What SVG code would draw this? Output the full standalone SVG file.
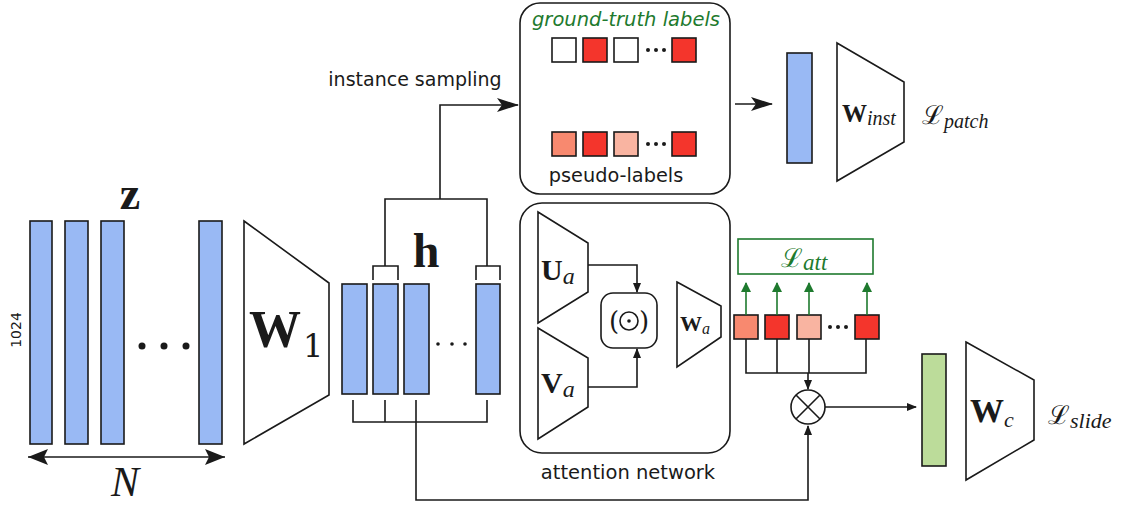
<svg xmlns="http://www.w3.org/2000/svg" width="1127" height="506" viewBox="0 0 1127 506">
<style>
.bar{fill:#99b9f4;stroke:#1a1a1a;stroke-width:1.6}
.gbar{fill:#bcdc9a;stroke:#1a1a1a;stroke-width:1.6}
.trap{fill:#fff;stroke:#1a1a1a;stroke-width:1.6}
.ln{fill:none;stroke:#1a1a1a;stroke-width:1.6}
.gln{fill:none;stroke:#1e7a2e;stroke-width:1.6}
.box{fill:#fff;stroke:#1a1a1a;stroke-width:1.6}
.sq{stroke:#1a1a1a;stroke-width:1.6}
.red{fill:#f4352c}.sal{fill:#f8896f}.lsal{fill:#f9b4a1}.wht{fill:#fff}
.sans{font-family:"DejaVu Sans",sans-serif;fill:#1a1a1a}
.math{font-family:"DejaVu Serif","Liberation Serif",serif;fill:#1a1a1a}
.bold{font-family:"Liberation Serif","DejaVu Serif",serif;font-weight:bold;fill:#1a1a1a}
.it{font-family:"Liberation Serif","DejaVu Serif",serif;font-style:italic;font-weight:normal}
.cal{font-family:"DejaVu Serif","Liberation Serif",serif;font-style:normal;font-weight:normal}
</style>
<defs>
<marker id="ah" markerWidth="10" markerHeight="8" refX="9" refY="4" orient="auto" markerUnits="userSpaceOnUse"><path d="M0,0 L10,4 L0,8 Z" fill="#1a1a1a"/></marker>
<marker id="ahb" markerWidth="22" markerHeight="14" refX="21" refY="7" orient="auto" markerUnits="userSpaceOnUse"><path d="M0,0 L22,7 L0,14 L5,7 Z" fill="#1a1a1a"/></marker>
<marker id="ahg" markerWidth="10" markerHeight="10" refX="9" refY="5" orient="auto" markerUnits="userSpaceOnUse"><path d="M0,0 L10,5 L0,10 Z" fill="#1e7a2e"/></marker>
</defs>

<g id="z-bags">
<rect class="bar" x="30" y="221" width="22" height="223"/>
<rect class="bar" x="65" y="221" width="23" height="223"/>
<rect class="bar" x="101" y="221" width="23" height="223"/>
<rect class="bar" x="199" y="221" width="23" height="223"/>
<circle cx="142" cy="346" r="3.5" fill="#1a1a1a"/><circle cx="164" cy="346" r="3.5" fill="#1a1a1a"/><circle cx="186" cy="346" r="3.5" fill="#1a1a1a"/>
<text class="bold" x="130" y="209" font-size="46" text-anchor="middle">z</text>
<text class="sans" x="0" y="0" font-size="14" text-anchor="middle" transform="translate(21,330) rotate(-90)">1024</text>
<text class="it" x="125" y="496" font-size="42" text-anchor="middle" fill="#1a1a1a">N</text>
</g>

<g id="w1">
<path class="trap" d="M244,221 L329,283 L329,395 L244,444 Z"/>
<text class="bold" x="249" y="347" font-size="52">W</text>
<text class="math" x="303" y="357" font-size="32">1</text>
</g>

<g id="h-bags">
<rect class="bar" x="342" y="284" width="25" height="110"/>
<rect class="bar" x="373" y="284" width="25" height="110"/>
<rect class="bar" x="404" y="284" width="25" height="110"/>
<rect class="bar" x="476" y="284" width="24" height="110"/>
<circle cx="438" cy="344" r="1.8" fill="#1a1a1a"/><circle cx="452" cy="344" r="1.8" fill="#1a1a1a"/><circle cx="465" cy="344" r="1.8" fill="#1a1a1a"/>
<text class="bold" x="426" y="267" font-size="48" text-anchor="middle">h</text>
</g>

<g id="top-box">
<rect class="box" x="520" y="3" width="210" height="191" rx="20"/>
<text x="626" y="26" font-size="19.5" font-style="italic" text-anchor="middle" font-family="DejaVu Sans,sans-serif" fill="#1e7a2e">ground-truth labels</text>
<rect class="sq wht" x="552" y="38" width="24" height="24"/>
<rect class="sq red" x="583" y="38" width="24" height="24"/>
<rect class="sq wht" x="614" y="38" width="24" height="24"/>
<rect class="sq red" x="672" y="38" width="24" height="24"/>
<circle cx="648" cy="50" r="2" fill="#1a1a1a"/><circle cx="656" cy="50" r="2" fill="#1a1a1a"/><circle cx="664" cy="50" r="2" fill="#1a1a1a"/>
<rect class="sq sal" x="552" y="132" width="24" height="24"/>
<rect class="sq red" x="583" y="132" width="24" height="24"/>
<rect class="sq lsal" x="614" y="132" width="24" height="24"/>
<rect class="sq red" x="672" y="132" width="24" height="24"/>
<circle cx="648" cy="144" r="2" fill="#1a1a1a"/><circle cx="656" cy="144" r="2" fill="#1a1a1a"/><circle cx="664" cy="144" r="2" fill="#1a1a1a"/>
<text class="sans" x="616" y="182" font-size="19.3" text-anchor="middle">pseudo-labels</text>
</g>

<g id="instance-branch">
<rect class="bar" x="787" y="53" width="25" height="110"/>
<path class="trap" d="M837,43 L904,82 L904,142 L837,181 Z"/>
<text x="842" y="122" fill="#1a1a1a"><tspan class="bold" font-size="25">W</tspan><tspan class="it" font-size="20" dy="3">inst</tspan></text>
<text x="922" y="124" fill="#1a1a1a"><tspan class="cal" font-size="26">ℒ</tspan><tspan class="it" font-size="20" dy="4">patch</tspan></text>
</g>

<g id="attention-box">
<rect class="box" x="520" y="203" width="210" height="250" rx="22"/>
<path class="trap" d="M538,212 L588,243 L588,292 L538,323 Z"/>
<path class="trap" d="M538,328 L588,358 L588,407 L538,439 Z"/>
<text x="541" y="280" fill="#1a1a1a"><tspan class="bold" font-size="30">U</tspan><tspan class="it" font-size="24" dy="4">a</tspan></text>
<text x="541" y="393" fill="#1a1a1a"><tspan class="bold" font-size="30">V</tspan><tspan class="it" font-size="24" dy="4">a</tspan></text>
<rect class="box" x="601" y="293" width="56" height="55" rx="12"/>
<circle cx="629" cy="321" r="9" class="ln"/>
<circle cx="629" cy="321" r="1.8" fill="#1a1a1a"/>
<text class="math" x="609" y="330" font-size="26">(</text>
<text class="math" x="639" y="330" font-size="26">)</text>
<path class="trap" d="M677,282 L721,306 L721,337 L677,367 Z"/>
<text x="680" y="331" fill="#1a1a1a"><tspan class="bold" font-size="22">W</tspan><tspan class="it" font-size="16" dy="3">a</tspan></text>
<text class="sans" x="628" y="479" font-size="19.5" text-anchor="middle">attention network</text>
</g>

<g id="attention-scores">
<rect x="738" y="239" width="135" height="35" fill="#fff" stroke="#1e7a2e" stroke-width="1.6"/>
<text x="781" y="267" fill="#1e7a2e"><tspan class="cal" font-size="26">ℒ</tspan><tspan class="it" font-size="23" dy="3">att</tspan></text>
<rect class="sq sal" x="734" y="315" width="24" height="24"/>
<rect class="sq red" x="765" y="315" width="24" height="24"/>
<rect class="sq lsal" x="797" y="315" width="24" height="24"/>
<rect class="sq red" x="855" y="315" width="24" height="24"/>
<circle cx="830" cy="327" r="2" fill="#1a1a1a"/><circle cx="838" cy="327" r="2" fill="#1a1a1a"/><circle cx="846" cy="327" r="2" fill="#1a1a1a"/>
</g>

<g id="aggregate">
<circle cx="808" cy="407" r="17" class="box"/>
<path class="ln" d="M796,395 L820,419 M820,395 L796,419"/>
</g>

<g id="slide-branch">
<rect class="gbar" x="922" y="354" width="24" height="112"/>
<path class="trap" d="M966,342 L1034,380 L1034,440 L966,480 Z"/>
<text x="970" y="422" fill="#1a1a1a"><tspan class="bold" font-size="34">W</tspan><tspan class="it" font-size="22" dy="5">c</tspan></text>
<text x="1048" y="424" fill="#1a1a1a"><tspan class="cal" font-size="26">ℒ</tspan><tspan class="it" font-size="22" dy="4">slide</tspan></text>
</g>

<g id="connectors">
<path class="ln" d="M28,457 L225,457"/>
<path d="M28,457 L48,449 L44,457 L48,465 Z" fill="#1a1a1a"/>
<path d="M225,457 L205,449 L209,457 L205,465 Z" fill="#1a1a1a"/>
<path class="ln" d="M373,280 L373,266 L398,266 L398,280 M385,266 L385,199 L487,199 L487,266 M476,280 L476,266 L500,266 L500,280"/>
<path class="ln" d="M440,199 L440,105 L518,105" marker-end="url(#ahb)"/>
<text class="sans" x="415" y="86" font-size="19" text-anchor="middle">instance sampling</text>
<path class="ln" d="M353,400 L353,422 L487,422 L487,400 M385,400 L385,422 M416,400 L416,500 L808,500 L808,426" marker-end="url(#ah)"/>
<path class="ln" d="M735,104 L772,104" marker-end="url(#ahb)"/>
<path class="ln" d="M588,265 L637,265 L637,292" marker-end="url(#ah)"/>
<path class="ln" d="M588,387 L637,387 L637,349" marker-end="url(#ah)"/>
<path class="gln" d="M746,315 L746,283" marker-end="url(#ahg)"/>
<path class="gln" d="M777,315 L777,283" marker-end="url(#ahg)"/>
<path class="gln" d="M809,315 L809,283" marker-end="url(#ahg)"/>
<path class="gln" d="M867,315 L867,283" marker-end="url(#ahg)"/>
<path class="ln" d="M746,339 L746,373 L866,373 L866,339 M777,339 L777,373 M809,339 L809,373"/>
<path class="ln" d="M808,373 L808,389" marker-end="url(#ah)"/>
<path class="ln" d="M825,407 L916,407" marker-end="url(#ah)"/>
</g>
</svg>
